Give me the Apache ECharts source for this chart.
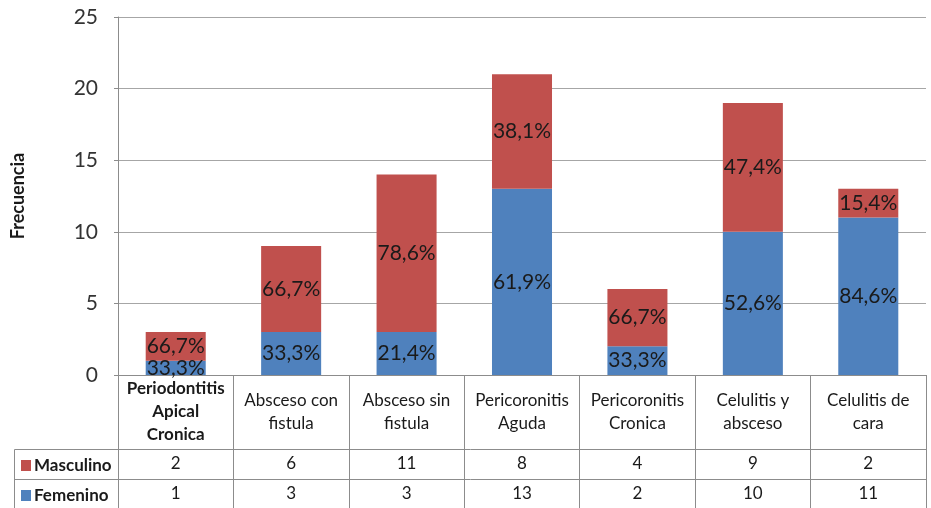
<!DOCTYPE html>
<html>
<head>
<meta charset="utf-8">
<script src="https://cdn.jsdelivr.net/npm/echarts@6/dist/echarts.min.js"></script>
<style>html,body{margin:0;padding:0;background:#fff;}#c{width:931px;height:508px;}</style>
</head>
<body>
<div id="c"></div>
<script>
var categories = ['Periodontitis\nApical\nCronica', 'Absceso con\nfistula', 'Absceso sin\nfistula', 'Pericoronitis\nAguda', 'Pericoronitis\nCronica', 'Celulitis y\nabsceso', 'Celulitis de\ncara'];
var masculino = [2, 6, 11, 8, 4, 9, 2];
var femenino = [1, 3, 3, 13, 2, 10, 11];
var yTicks = [0, 5, 10, 15, 20, 25];

var FONT = 'Lato, "Open Sans", sans-serif';
var GRID = {left: 118, right: 5, top: 17, bottom: 133, containLabel: false, outerBoundsMode: 'none'};
var W = 931, H = 508;
var axisY = H - GRID.bottom;
var border = '#8c8c8c';

function pct(i, arr) {
  var t = masculino[i] + femenino[i];
  return (arr[i] / t * 100).toFixed(1).replace('.', ',') + '%';
}

var chart = echarts.init(document.getElementById('c'), null, {renderer: 'canvas'});
chart.setOption({
  animation: false,
  backgroundColor: '#fff',
  textStyle: {fontFamily: FONT},
  grid: GRID,
  legend: {
    data: ['Masculino', 'Femenino'],
    orient: 'vertical',
    left: 21, top: 457, height: 50,
    padding: 0,
    itemWidth: 10, itemHeight: 11, itemGap: 13,
    icon: 'rect',
    textStyle: {fontFamily: FONT, fontSize: 17, lineHeight: 16, fontWeight: 'bold', color: '#1a1a1a', padding: [0, 0, 0, -2]},
    selectedMode: false
  },
  xAxis: [{
    type: 'category',
    data: categories,
    position: 'bottom',
    axisLine: {show: true, lineStyle: {color: border, width: 1}},
    axisTick: {show: true, length: H - axisY, lineStyle: {color: border, width: 1}},
    axisLabel: {
      interval: 0, margin: 37, verticalAlign: 'middle', lineHeight: 23,
      fontFamily: FONT, fontSize: 17, color: '#1a1a1a',
      formatter: function (v, i) { return i === 0 ? '{b|' + v + '}' : v; },
      rich: {b: {fontFamily: FONT, fontSize: 17, fontWeight: 'bold', lineHeight: 23, color: '#1a1a1a'}}
    }
  }, {
    type: 'category',
    data: masculino.map(String),
    position: 'bottom',
    axisLine: {show: false}, axisTick: {show: false},
    axisLabel: {interval: 0, margin: 89, verticalAlign: 'middle', fontFamily: FONT, fontSize: 17, color: '#1a1a1a'}
  }, {
    type: 'category',
    data: femenino.map(String),
    position: 'bottom',
    axisLine: {show: false}, axisTick: {show: false},
    axisLabel: {interval: 0, margin: 119, verticalAlign: 'middle', fontFamily: FONT, fontSize: 17, color: '#1a1a1a'}
  }],
  yAxis: {
    type: 'value',
    min: yTicks[0], max: yTicks[yTicks.length - 1], interval: 5,
    name: 'Frecuencia',
    nameLocation: 'middle', nameGap: 91, nameRotate: 90,
    nameTextStyle: {fontFamily: FONT, fontSize: 18, fontWeight: 'bold', color: '#1a1a1a'},
    axisLine: {show: true, lineStyle: {color: border}},
    axisTick: {show: true, length: 4, lineStyle: {color: border}},
    splitLine: {show: true, lineStyle: {color: '#a6a6a6'}},
    axisLabel: {margin: 20, fontFamily: FONT, fontSize: 21, color: '#333'}
  },
  series: [{
    name: 'Femenino', type: 'bar', stack: 't', data: femenino, barWidth: '52%',
    itemStyle: {color: '#4F81BD'},
    label: {show: true, position: 'inside', fontFamily: FONT, fontSize: 21, color: '#1a1a1a',
      formatter: function (p) { return pct(p.dataIndex, femenino); }}
  }, {
    name: 'Masculino', type: 'bar', stack: 't', data: masculino, barWidth: '52%',
    itemStyle: {color: '#C0504D'},
    label: {show: true, position: 'inside', fontFamily: FONT, fontSize: 21, color: '#1a1a1a',
      formatter: function (p) { return pct(p.dataIndex, masculino); }}
  }],
  graphic: [
    {type: 'line', shape: {x1: 14.5, y1: 449.5, x2: W - GRID.right + 0.5, y2: 449.5}, style: {stroke: border, lineWidth: 1}},
    {type: 'line', shape: {x1: 14.5, y1: 479.5, x2: W - GRID.right + 0.5, y2: 479.5}, style: {stroke: border, lineWidth: 1}},
    {type: 'line', shape: {x1: 14.5, y1: 449.5, x2: 14.5, y2: H}, style: {stroke: border, lineWidth: 1}}
  ]
});
</script>
</body>
</html>
